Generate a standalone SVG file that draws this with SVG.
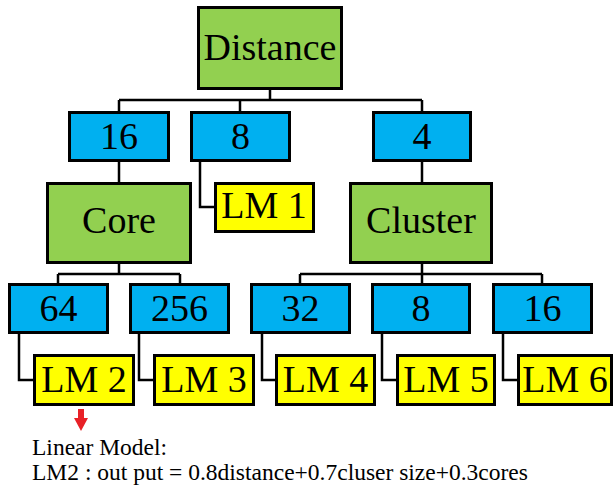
<svg xmlns="http://www.w3.org/2000/svg" width="613" height="487" viewBox="0 0 613 487">
<style>
.box{stroke:#000;stroke-width:3}
.g{fill:#92D050}.b{fill:#00B0F0}.y{fill:#FFFF00}
.t{font-family:"Liberation Serif","Times New Roman",serif;font-size:38px;fill:#000;text-anchor:middle}
.c{fill:none;stroke:#000;stroke-width:2.5}
.note{font-family:"Liberation Serif","Times New Roman",serif;font-size:23.5px;fill:#000}
</style>
<rect width="613" height="487" fill="#fff"/>
<g id="connectors">
<path class="c" d="M270 90V100M119 100H422M119 100V111M240 100V111M422 100V111"/>
<path class="c" d="M119 162V182M422 162V182M200 162V207H214"/>
<path class="c" d="M119 264V274M58 274H180M58 274V283M180 274V283"/>
<path class="c" d="M422 264V274M300 274H542M300 274V283M422 274V283M542 274V283"/>
<path class="c" d="M19 334V380H33M139 334V380H153M262 334V380H275M382 334V380H396M503 334V380H517"/>
</g>
<g id="n-distance"><rect class="box g" x="198.5" y="7.5" width="143" height="81"/><text class="t" x="270" y="60">Distance</text></g>
<g id="n-16a"><rect class="box b" x="69.5" y="112.5" width="99" height="48"/><text class="t" x="119" y="149">16</text></g>
<g id="n-8a"><rect class="box b" x="191.5" y="112.5" width="98" height="48"/><text class="t" x="240.5" y="149">8</text></g>
<g id="n-4"><rect class="box b" x="373.5" y="112.5" width="97" height="48"/><text class="t" x="422" y="149">4</text></g>
<g id="n-core"><rect class="box g" x="47.5" y="183.5" width="143" height="79"/><text class="t" x="119" y="233">Core</text></g>
<g id="n-lm1"><rect class="box y" x="215.5" y="183.5" width="98" height="48"/><text class="t" x="264" y="218">LM 1</text></g>
<g id="n-cluster"><rect class="box g" x="350.5" y="183.5" width="141" height="79"/><text class="t" x="421" y="233">Cluster</text></g>
<g id="n-64"><rect class="box b" x="9.5" y="284.5" width="98" height="48"/><text class="t" x="58.5" y="321">64</text></g>
<g id="n-256"><rect class="box b" x="130.5" y="284.5" width="98" height="48"/><text class="t" x="179.5" y="321">256</text></g>
<g id="n-32"><rect class="box b" x="251.5" y="284.5" width="98" height="48"/><text class="t" x="300.5" y="321">32</text></g>
<g id="n-8b"><rect class="box b" x="372.5" y="284.5" width="97" height="48"/><text class="t" x="421" y="321">8</text></g>
<g id="n-16b"><rect class="box b" x="493.5" y="284.5" width="98" height="48"/><text class="t" x="542.5" y="321">16</text></g>
<g id="n-lm2"><rect class="box y" x="34.5" y="355.5" width="99" height="49"/><text class="t" x="84" y="392">LM 2</text></g>
<g id="n-lm3"><rect class="box y" x="154.5" y="355.5" width="99" height="49"/><text class="t" x="204" y="392">LM 3</text></g>
<g id="n-lm4"><rect class="box y" x="276.5" y="355.5" width="98" height="49"/><text class="t" x="325.5" y="392">LM 4</text></g>
<g id="n-lm5"><rect class="box y" x="397.5" y="355.5" width="97" height="49"/><text class="t" x="446" y="392">LM 5</text></g>
<g id="n-lm6"><rect class="box y" x="518.5" y="355.5" width="93" height="49"/><text class="t" x="565" y="392">LM 6</text></g>
<g id="arrow"><polygon points="78,409 84,409 84,418 88,418 81,431 74,418 78,418" fill="#E82127"/></g>
<g id="note">
<text class="note" x="32" y="455">Linear Model:</text>
<text class="note" x="32" y="480">LM2 : out put = 0.8distance+0.7cluser size+0.3cores</text>
</g>
</svg>
